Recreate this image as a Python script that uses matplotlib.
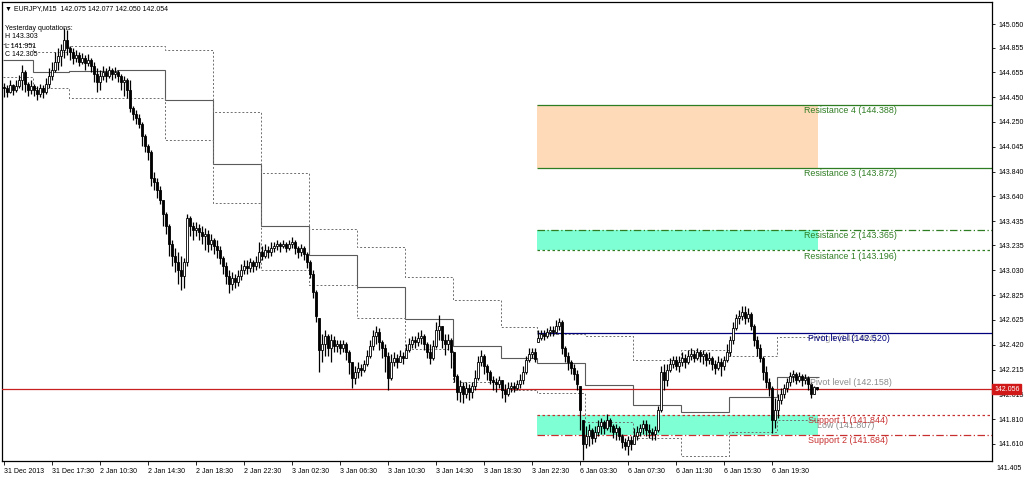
import numpy as np
import matplotlib
matplotlib.use("Agg")
import matplotlib.pyplot as plt
from matplotlib.transforms import blended_transform_factory

plt.rcParams['font.family'] = ['Liberation Sans', 'DejaVu Sans']

# EURJPY M15 bars, 31 Dec 2013 13:30 .. 6 Jan 2014 23:15
closes = [
    144.525, 144.493, 144.550, 144.509, 144.542, 144.591, 144.657, 144.558, 144.509, 144.542,
    144.509, 144.476, 144.525, 144.493, 144.558, 144.624, 144.673, 144.739, 144.788, 144.837, 144.919, 144.853,
    144.821, 144.771, 144.796, 144.739, 144.771, 144.730, 144.755, 144.706, 144.640, 144.575, 144.624, 144.657, 144.624, 144.673, 144.640, 144.657,
    144.624, 144.575, 144.591, 144.509, 144.361, 144.312, 144.279, 144.230, 144.132, 144.050, 144.001, 143.787, 143.755, 143.689, 143.607, 143.492,
    143.394, 143.246, 143.148, 143.099, 143.033, 142.984, 143.099, 143.459, 143.394, 143.361, 143.377, 143.345, 143.312, 143.328, 143.246, 143.279,
    143.230, 143.197, 143.131, 143.066, 142.984, 142.918, 142.967, 142.935, 142.984, 143.033, 143.066, 143.049, 143.099, 143.066, 143.099, 143.181,
    143.148, 143.197, 143.181, 143.213, 143.230, 143.246, 143.230, 143.246, 143.213, 143.246, 143.263, 143.213, 143.181, 143.213, 143.164, 143.099,
    143.000, 142.853, 142.656, 142.377, 142.426, 142.492, 142.393, 142.459, 142.410, 142.426, 142.393, 142.426, 142.361, 142.279, 142.147, 142.197,
    142.229, 142.213, 142.262, 142.328, 142.410, 142.492, 142.525, 142.443, 142.393, 142.328, 142.147, 142.279, 142.311, 142.279, 142.328, 142.311,
    142.377, 142.426, 142.459, 142.443, 142.475, 142.492, 142.426, 142.361, 142.311, 142.410, 142.541, 142.574, 142.459, 142.426, 142.459, 142.361,
    142.164, 142.033, 142.082, 142.016, 142.065, 142.033, 142.082, 142.147, 142.279, 142.328, 142.246, 142.197, 142.131, 142.115, 142.098, 142.131,
    142.049, 142.016, 142.065, 142.082, 142.065, 142.098, 142.131, 142.197, 142.295, 142.344, 142.361, 142.305,
    142.475, 142.508, 142.492, 142.525, 142.541, 142.525, 142.574, 142.607, 142.393, 142.328, 142.279, 142.229, 142.180, 142.098, 141.885, 141.606,
    141.672, 141.721, 141.655, 141.705, 141.754, 141.787, 141.737, 141.803, 141.754, 141.705, 141.737, 141.672, 141.623, 141.590, 141.639, 141.606,
    141.672, 141.705, 141.737, 141.770, 141.721, 141.705, 141.688, 141.721, 141.885, 142.197, 142.131, 142.213, 142.262, 142.295, 142.246, 142.279,
    142.311, 142.279, 142.328, 142.344, 142.311, 142.361, 142.328, 142.344, 142.295, 142.311, 142.262, 142.229, 142.279, 142.246, 142.295, 142.361,
    142.459, 142.557, 142.639, 142.656, 142.689, 142.639, 142.672, 142.574, 142.459, 142.393, 142.311, 142.197, 142.115, 142.065, 141.803, 141.885,
    141.967, 142.016, 142.065, 142.115, 142.164, 142.180, 142.131, 142.164, 142.131, 142.147, 142.098, 142.016, 142.075, 142.054,
]
highs = [
    144.566, 144.550, 144.591, 144.558, 144.591, 144.632, 144.714, 144.673, 144.575, 144.591,
    144.558, 144.542, 144.558, 144.550, 144.607, 144.689, 144.739, 144.821, 144.853, 144.886, 145.017, 145.001,
    144.870, 144.853, 144.837, 144.821, 144.812, 144.796, 144.804, 144.771, 144.739, 144.689, 144.673, 144.706, 144.689, 144.706, 144.689, 144.698,
    144.673, 144.640, 144.624, 144.607, 144.591, 144.378, 144.345, 144.312, 144.247, 144.148, 144.066, 144.017, 143.837, 143.787, 143.722, 143.607,
    143.509, 143.410, 143.279, 143.213, 143.181, 143.148, 143.131, 143.492, 143.476, 143.427, 143.427, 143.410, 143.394, 143.377, 143.361, 143.328,
    143.295, 143.279, 143.230, 143.148, 143.099, 143.033, 143.017, 143.000, 143.033, 143.082, 143.115, 143.115, 143.131, 143.115, 143.148, 143.263,
    143.230, 143.246, 143.230, 143.263, 143.263, 143.279, 143.263, 143.279, 143.263, 143.279, 143.303, 143.279, 143.230, 143.246, 143.230, 143.181,
    143.115, 143.033, 142.869, 142.639, 142.508, 142.541, 142.508, 142.508, 142.492, 142.459, 142.459, 142.459, 142.443, 142.377, 142.279, 142.246,
    142.279, 142.262, 142.295, 142.377, 142.459, 142.541, 142.574, 142.557, 142.459, 142.426, 142.361, 142.344, 142.361, 142.344, 142.377, 142.361,
    142.426, 142.475, 142.492, 142.492, 142.525, 142.541, 142.508, 142.443, 142.426, 142.459, 142.607, 142.664, 142.574, 142.508, 142.508, 142.475,
    142.361, 142.180, 142.131, 142.115, 142.115, 142.098, 142.115, 142.213, 142.328, 142.377, 142.344, 142.262, 142.213, 142.164, 142.147, 142.164,
    142.131, 142.098, 142.115, 142.115, 142.115, 142.131, 142.180, 142.246, 142.328, 142.393, 142.393, 142.393,
    142.541, 142.541, 142.541, 142.557, 142.574, 142.574, 142.623, 142.639, 142.623, 142.410, 142.361, 142.295, 142.262, 142.213, 142.082, 141.803,
    141.754, 141.770, 141.737, 141.754, 141.803, 141.819, 141.803, 141.852, 141.819, 141.770, 141.770, 141.754, 141.688, 141.655, 141.672, 141.672,
    141.737, 141.754, 141.770, 141.803, 141.803, 141.770, 141.737, 141.754, 141.918, 142.246, 142.262, 142.262, 142.311, 142.328, 142.328, 142.328,
    142.361, 142.344, 142.377, 142.393, 142.377, 142.393, 142.377, 142.377, 142.361, 142.361, 142.328, 142.295, 142.328, 142.311, 142.328, 142.426,
    142.492, 142.607, 142.672, 142.705, 142.738, 142.738, 142.721, 142.689, 142.590, 142.492, 142.426, 142.328, 142.246, 142.147, 142.082, 141.983,
    142.016, 142.065, 142.098, 142.147, 142.197, 142.213, 142.197, 142.197, 142.180, 142.180, 142.164, 142.115, 142.082, 142.077,
]
lows = [
    144.452, 144.452, 144.484, 144.468, 144.493, 144.525, 144.509, 144.493, 144.460, 144.476,
    144.460, 144.427, 144.452, 144.443, 144.476, 144.525, 144.591, 144.657, 144.673, 144.706, 144.771, 144.796,
    144.755, 144.722, 144.739, 144.706, 144.722, 144.673, 144.706, 144.657, 144.575, 144.493, 144.509, 144.591, 144.575, 144.607, 144.591, 144.607,
    144.575, 144.509, 144.460, 144.443, 144.329, 144.263, 144.230, 144.197, 144.050, 144.001, 143.935, 143.722, 143.689, 143.623, 143.574, 143.394,
    143.328, 143.148, 143.066, 143.017, 142.918, 142.869, 142.885, 143.066, 143.312, 143.279, 143.312, 143.279, 143.246, 143.197, 143.181, 143.197,
    143.164, 143.131, 143.082, 143.000, 142.918, 142.844, 142.869, 142.885, 142.902, 142.951, 143.000, 143.000, 143.017, 143.017, 143.033, 143.049,
    143.115, 143.131, 143.131, 143.148, 143.181, 143.197, 143.181, 143.213, 143.181, 143.197, 143.213, 143.164, 143.131, 143.148, 143.115, 143.049,
    142.967, 142.803, 142.607, 142.197, 142.279, 142.328, 142.328, 142.279, 142.361, 142.361, 142.344, 142.361, 142.295, 142.180, 142.065, 142.098,
    142.147, 142.164, 142.197, 142.246, 142.311, 142.377, 142.426, 142.377, 142.311, 142.197, 142.049, 142.131, 142.246, 142.229, 142.279, 142.262,
    142.311, 142.361, 142.393, 142.393, 142.410, 142.426, 142.377, 142.311, 142.262, 142.295, 142.393, 142.459, 142.393, 142.336, 142.377, 142.229,
    142.115, 141.967, 141.951, 141.942, 141.983, 141.967, 141.983, 142.049, 142.131, 142.246, 142.180, 142.131, 142.098, 142.049, 142.033, 142.065,
    141.983, 141.951, 142.000, 142.033, 142.033, 142.049, 142.065, 142.098, 142.180, 142.279, 142.311, 142.279,
    142.443, 142.459, 142.459, 142.475, 142.492, 142.492, 142.508, 142.541, 142.344, 142.279, 142.213, 142.180, 142.131, 142.049, 141.721, 141.475,
    141.573, 141.590, 141.606, 141.623, 141.672, 141.688, 141.688, 141.721, 141.705, 141.655, 141.639, 141.639, 141.573, 141.557, 141.516, 141.557,
    141.606, 141.639, 141.672, 141.688, 141.672, 141.655, 141.639, 141.639, 141.705, 141.869, 142.049, 142.082, 142.197, 142.229, 142.213, 142.197,
    142.246, 142.229, 142.262, 142.295, 142.279, 142.295, 142.279, 142.262, 142.246, 142.262, 142.213, 142.180, 142.213, 142.164, 142.213, 142.279,
    142.328, 142.426, 142.541, 142.590, 142.623, 142.590, 142.607, 142.541, 142.410, 142.328, 142.279, 142.131, 142.065, 142.000, 141.697, 141.737,
    141.819, 141.934, 141.983, 142.033, 142.082, 142.115, 142.098, 142.115, 142.082, 142.098, 142.049, 141.983, 142.016, 142.050,
]
first_open = 144.530

# H4 pivot band (bar index where each 4-hour period starts)
seg_start = [0, 10, 22, 38, 54, 70, 86, 102, 118, 134, 150, 166, 178, 194, 210, 226, 242, 258]
seg_pivot = [144.755, 144.657, 144.665, 144.673, 144.427, 143.902, 143.394, 143.156, 142.894,
             142.631, 142.410, 142.311, 142.270, 142.090, 141.926, 141.869, 141.992, 142.158]
seg_high = [144.886, 144.821, 144.870, 144.870, 144.837, 144.329, 143.828, 143.369, 143.222,
            142.976, 142.787, 142.566, 142.508, 142.492, 142.295, 142.377, 142.328, 142.484]
seg_low = [144.616, 144.525, 144.443, 144.443, 144.099, 143.582, 143.033, 142.910, 142.639,
           142.385, 142.115, 142.049, 142.025, 141.787, 141.655, 141.508, 141.705, 141.807]

# daily levels for 6 Jan
level_names = ["Resistance 4", "Resistance 3", "Resistance 2", "Resistance 1",
               "Pivot level", "Support 1", "Support 2"]
level_values = [144.388, 143.872, 143.365, 143.196, 142.520, 141.844, 141.684]
level_colors = ["#2f7d23", "#2f7d23", "#2f7d23", "#2f7d23", "#00007f", "#c83030", "#c83030"]
level_styles = ["-", "-", (0, (6, 2, 1, 2)), (0, (2, 2)), "-", (0, (2, 2)), (0, (6, 2, 1, 2))]

last_price = 142.056
yesterday_h, yesterday_l, yesterday_c = 143.303, 141.951, 142.305
title_text = "\u25bc EURJPY,M15  142.075 142.077 142.050 142.054"

xtick_bars = list(range(0, 257, 16))
xtick_labels = ["31 Dec 2013", "31 Dec 17:30", "2 Jan 10:30", "2 Jan 14:30", "2 Jan 18:30",
                "2 Jan 22:30", "3 Jan 02:30", "3 Jan 06:30", "3 Jan 10:30", "3 Jan 14:30",
                "3 Jan 18:30", "3 Jan 22:30", "6 Jan 03:30", "6 Jan 07:30", "6 Jan 11:30",
                "6 Jan 15:30", "6 Jan 19:30"]
ytick_values = [145.050, 144.855, 144.655, 144.450, 144.250, 144.045, 143.840, 143.640,
                143.435, 143.235, 143.030, 142.825, 142.625, 142.420, 142.215, 142.015,
                141.810, 141.610]
bottom_tick = 141.405

#%%
W, H = 1024, 486
fig = plt.figure(figsize=(W / 100, H / 100), dpi=100)
ax = fig.add_axes([2 / W, (H - 461) / H, 990 / W, 459 / H])

c = np.array(closes)
hi = np.array(highs)
lo = np.array(lows)
o = np.clip(np.concatenate([[first_open], c[:-1]]), lo, hi)
x = np.arange(len(c))

# zones
x0, x1 = 177.6, 271.3
ax.fill_between([x0, x1], 143.872, 144.388, color="#fedab9", lw=0, zorder=1)
ax.fill_between([x0, x1], 143.196, 143.365, color="#7fffd4", lw=0, zorder=1)
ax.fill_between([x0, x1], 141.684, 141.844, color="#7fffd4", lw=0, zorder=1)

xmax = 329.33
for name, v, col, ls in zip(level_names, level_values, level_colors, level_styles):
    ax.hlines(v, x0, xmax, colors=col, linestyles=ls, lw=0.9, zorder=2)
    xl = 266.7 if name.startswith("Res") else 268.0
    ax.text(xl, v - 0.048, f"{name} ({v:.3f})", color=col, fontsize=6.4,
            va="center", ha="left", zorder=8)

# H4 level labels (gray), drawn under the daily ones as in the terminal
ax.text(268.7, 142.158 - 0.048, "Pivot level (142.158)", color="#8c8c8c", fontsize=6.4,
        va="center", zorder=7)
ax.text(271.0, 141.807 - 0.050, "Low (141.807)", color="#8c8c8c", fontsize=6.4,
        va="center", zorder=7)
ax.text(271.0, 142.484 - 0.012, "High (142.484)", color="#8c8c8c", fontsize=6.4,
        va="center", zorder=7, alpha=0.8)

edges = np.array(seg_start + [272]) - 0.5
ax.stairs(seg_pivot, edges, baseline=None, color="#5a5a5a", lw=0.8, zorder=3)
ax.stairs(seg_high, edges, baseline=None, color="#6e6e6e", lw=0.7, ls=(0, (2, 2)), zorder=3)
ax.stairs(seg_low, edges, baseline=None, color="#6e6e6e", lw=0.7, ls=(0, (2, 2)), zorder=3)

# current price
ax.axhline(last_price, color="#c82020", lw=0.9, zorder=4)

# candles
up = c >= o
body_lo = np.minimum(o, c)
body_h = np.maximum(np.abs(c - o), 0.003)
ax.vlines(x, lo, hi, color="black", lw=0.9, zorder=5)
ax.bar(x[up], body_h[up], bottom=body_lo[up], width=0.8, color="white",
       edgecolor="black", linewidth=0.6, zorder=6)
ax.bar(x[~up], body_h[~up], bottom=body_lo[~up], width=0.8, color="black",
       edgecolor="black", linewidth=0.6, zorder=6)

ax.set_xlim(-0.667, xmax)
ax.set_ylim(141.467, 145.231)

ax.yaxis.tick_right()
ax.set_yticks(ytick_values)
ax.set_yticklabels([f"{v:.3f}" for v in ytick_values])
ax.tick_params(axis="y", labelsize=5, length=2.5, width=0.6, pad=2)
ax.set_xticks(xtick_bars)
ax.set_xticklabels(xtick_labels)
ax.tick_params(axis="x", labelsize=5, length=3, width=0.6, pad=2)
for lab in ax.get_xticklabels():
    lab.set_ha("left")

for s in ax.spines.values():
    s.set_linewidth(0.9)

tr = blended_transform_factory(ax.transAxes, ax.transData)
ax.text(1.0045, bottom_tick, f"{bottom_tick:.3f}", transform=tr, fontsize=5,
        va="center", clip_on=False)
ax.text(1.002, last_price, f"{last_price:.3f}", transform=tr, fontsize=5, color="white",
        va="center", ha="left", clip_on=False, zorder=10,
        bbox=dict(boxstyle="square,pad=0.25", fc="#d01818", ec="#d01818"))

ax.text(0.003, 0.985, title_text, transform=ax.transAxes, fontsize=5, va="center", zorder=9)
ax.text(0.003, 0.943, "Yesterday quotations:", transform=ax.transAxes, fontsize=5, va="center", zorder=9)
ax.text(0.003, 0.924, f"H {yesterday_h:.3f}", transform=ax.transAxes, fontsize=5, va="center", zorder=9)
ax.text(0.003, 0.904, f"L {yesterday_l:.3f}", transform=ax.transAxes, fontsize=5, va="center", zorder=9)
ax.text(0.003, 0.885, f"C {yesterday_c:.3f}", transform=ax.transAxes, fontsize=5, va="center", zorder=9)

fig.savefig("out.png", dpi=100, facecolor="white")
